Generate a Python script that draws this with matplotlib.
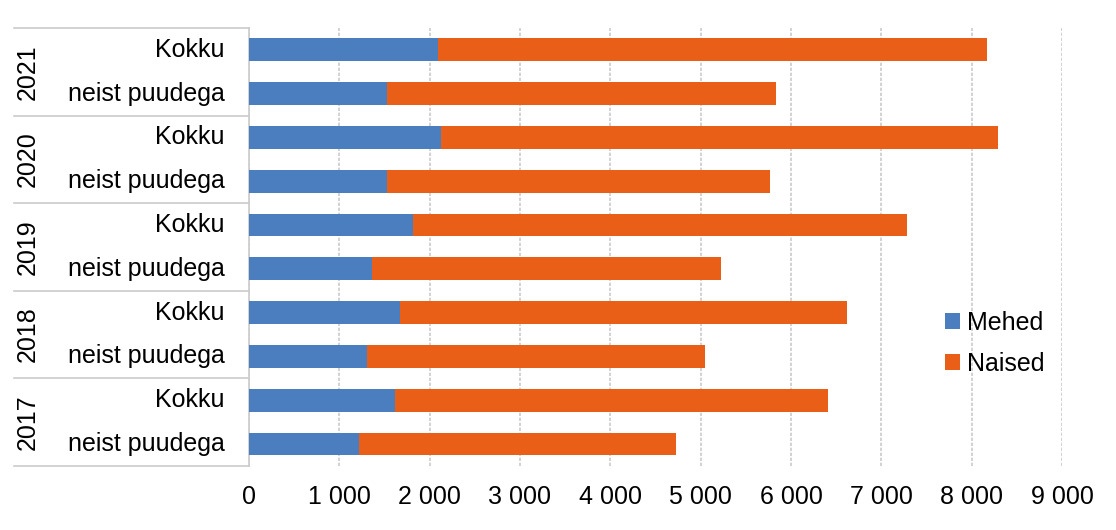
import matplotlib.pyplot as plt
from matplotlib.lines import Line2D
from matplotlib.ticker import FuncFormatter
from matplotlib.transforms import blended_transform_factory

plt.rcParams['font.family'] = ['Liberation Sans', 'DejaVu Sans']

# Data (top to bottom)
years = ['2021', '2020', '2019', '2018', '2017']
categories = ['Kokku', 'neist puudega']
mehed = [2087, 1523, 2124, 1523, 1818, 1361, 1674, 1305, 1615, 1220]
kokku = [8171, 5830, 8289, 5763, 7279, 5229, 6623, 5052, 6408, 4727]
naised = [t - m for t, m in zip(kokku, mehed)]

blue = '#4A7EBE'
orange = '#E95F17'
grid_col = '#CBCBCB'

fig = plt.figure(figsize=(11.16, 5.30), dpi=100)
ax = fig.add_axes([0.2231, 0.1208, 0.7285, 0.8264])

ypos = list(range(len(mehed)))
ax.barh(ypos, mehed, height=0.52, color=blue, label='Mehed', zorder=3)
ax.barh(ypos, naised, left=mehed, height=0.52, color=orange, label='Naised', zorder=3)

ax.set_ylim(len(mehed) - 0.5, -0.5)
ax.set_xlim(0, 9000)
ax.set_xticks(range(0, 9001, 1000))
ax.xaxis.set_major_formatter(FuncFormatter(lambda v, p: f'{int(v):,}'.replace(',', ' ')))
ax.tick_params(axis='x', length=0, labelsize=18, pad=14)
ax.set_yticks([])
ax.grid(axis='x', color=grid_col, linestyle=(0, (2, 1)), linewidth=1.2, zorder=0)

for s in ['top', 'right', 'bottom']:
    ax.spines[s].set_visible(False)
ax.spines['left'].set_color(grid_col)
ax.spines['left'].set_linewidth(1.2)

# Two-level category labels on the left
trans = blended_transform_factory(ax.transAxes, ax.transData)
for i, y in enumerate(ypos):
    ax.text(-0.0295, y, categories[i % 2], transform=trans, ha='right', va='center',
            fontsize=18, clip_on=False)
for g, yr in enumerate(years):
    ax.text(-0.272, 2 * g + 0.5, yr, transform=trans, ha='center', va='center',
            rotation=90, fontsize=18, clip_on=False)
for b in range(len(years) + 1):
    yb = 2 * b - 0.5
    ax.add_line(Line2D([-0.289, 0], [yb, yb], transform=trans, color=grid_col,
                       linewidth=1.2, clip_on=False))

leg = ax.legend(loc='center left', bbox_to_anchor=(0.828, 0.28), frameon=False,
                fontsize=18, handlelength=0.6, handleheight=0.6, handletextpad=0.3,
                labelspacing=0.7)

fig.savefig('out.png', dpi=100)
